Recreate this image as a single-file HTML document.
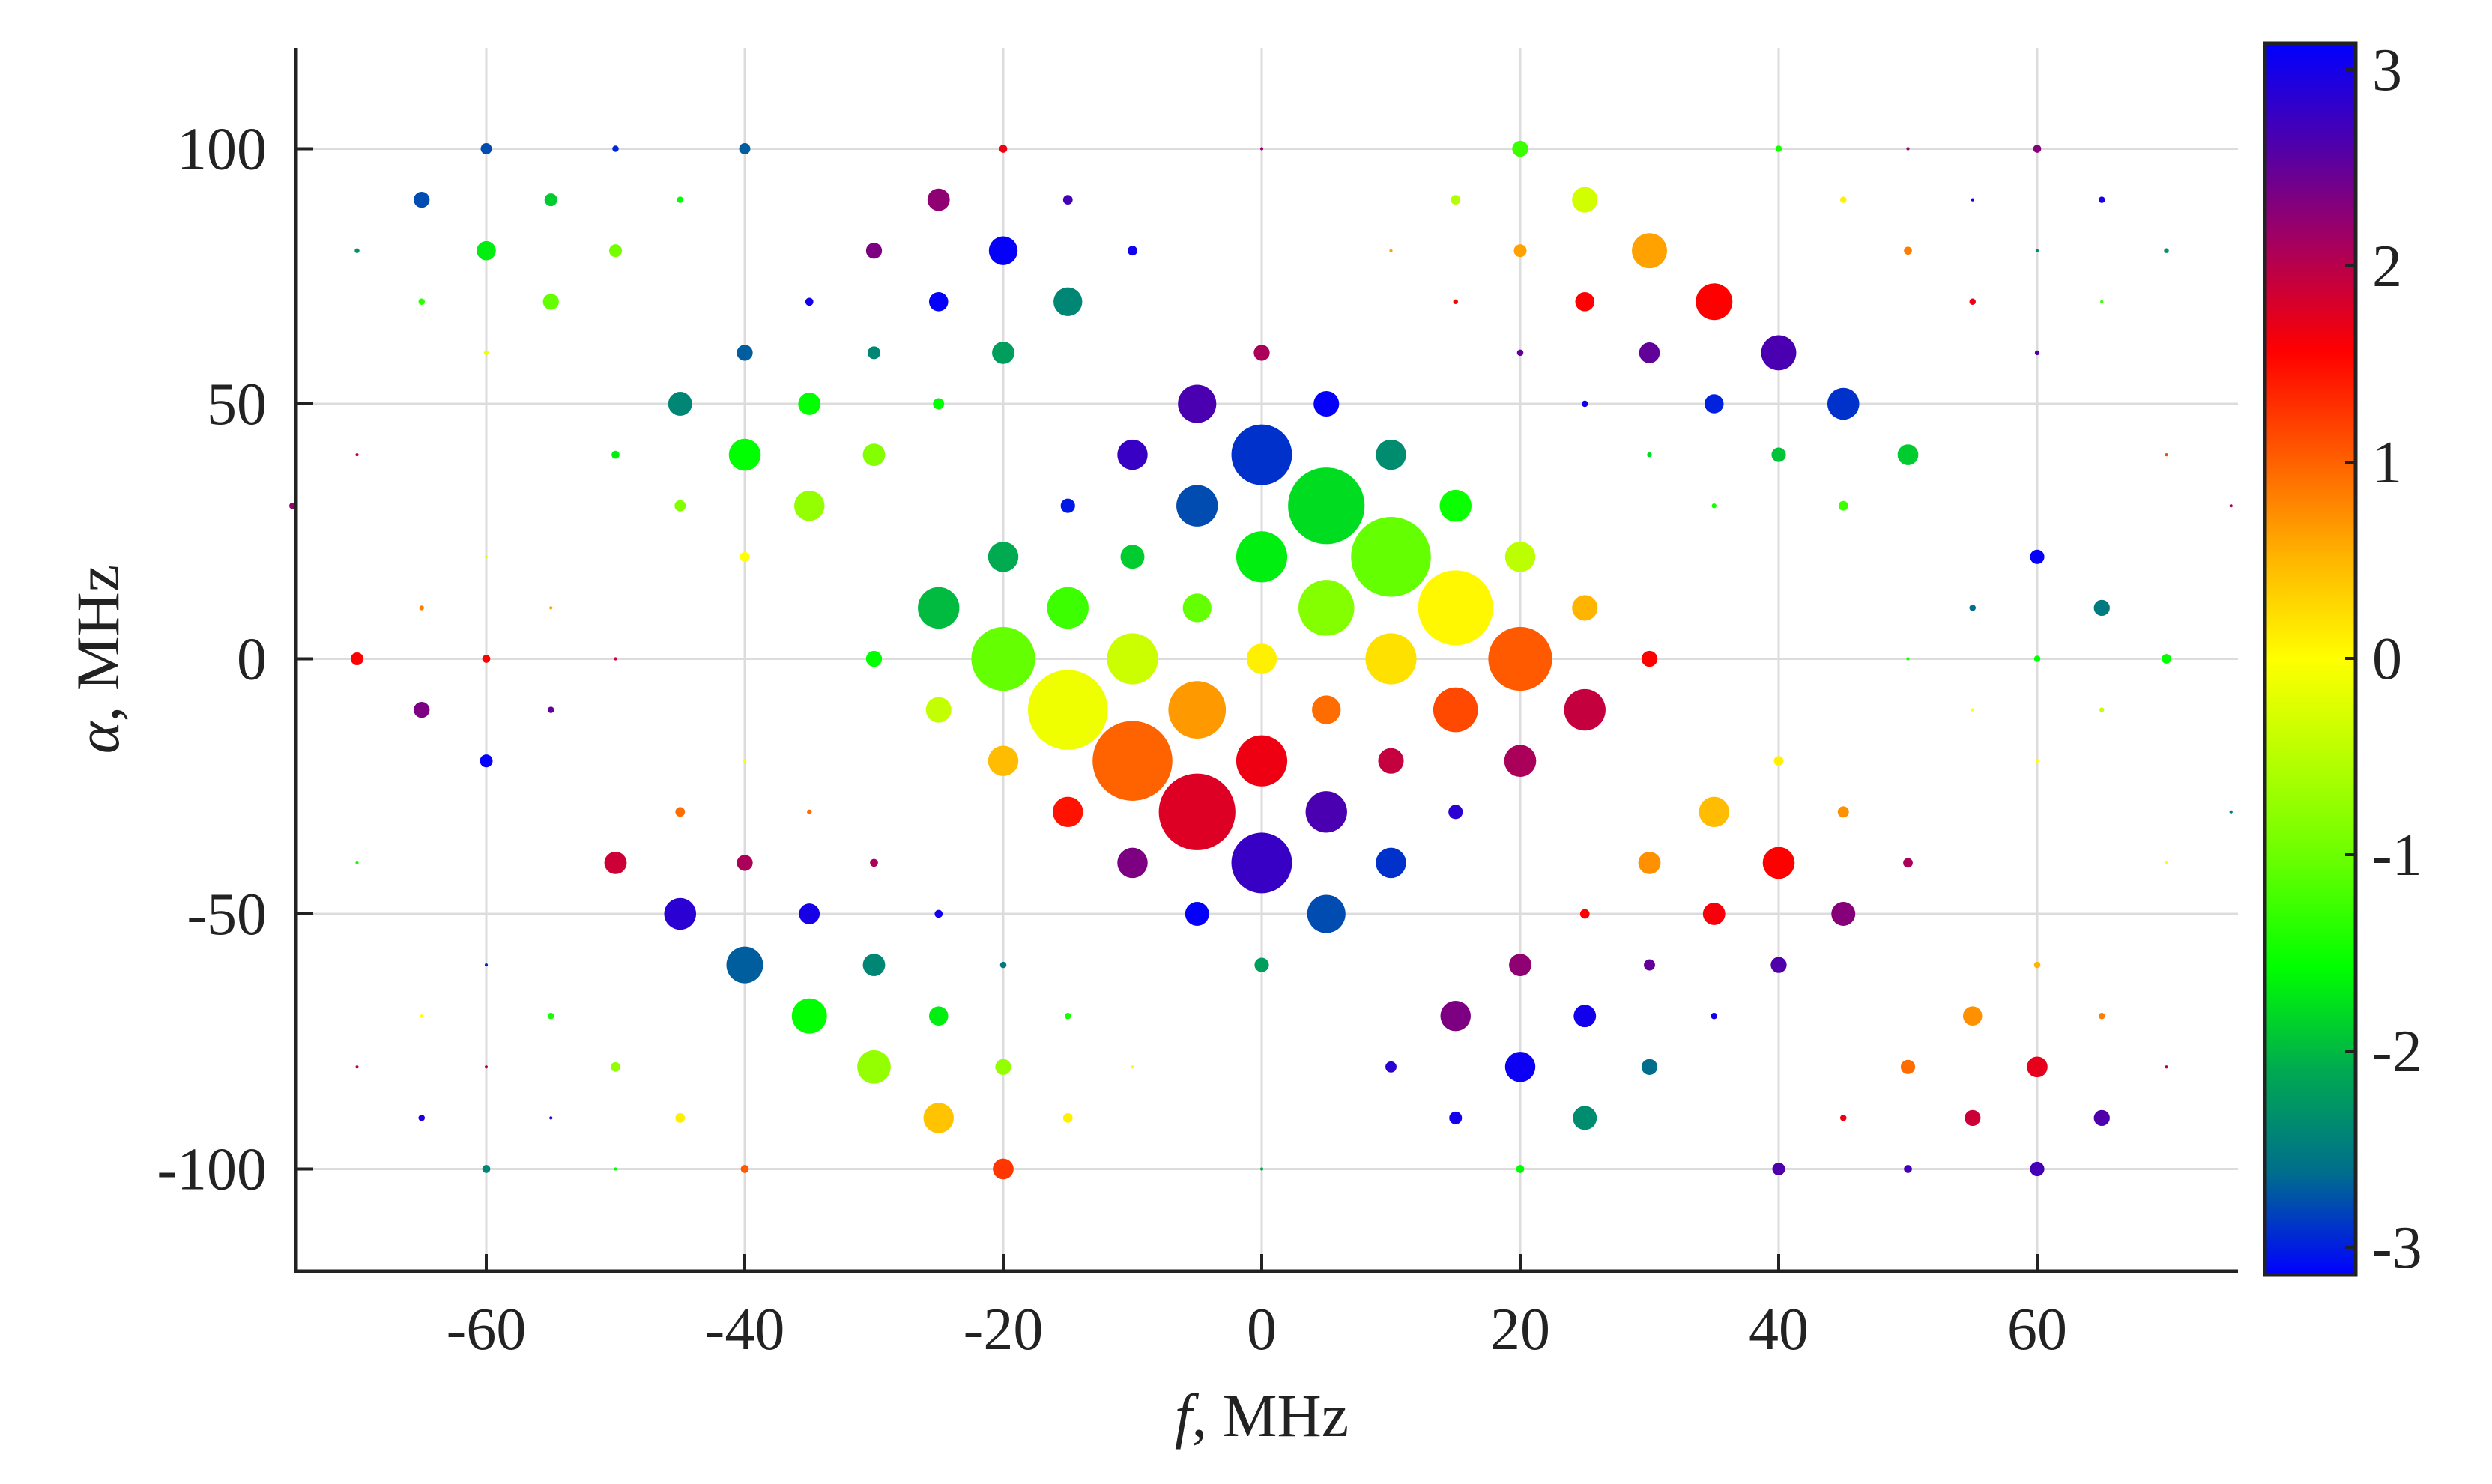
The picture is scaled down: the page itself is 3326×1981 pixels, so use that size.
<!DOCTYPE html>
<html><head><meta charset="utf-8"><title>Phase bubble chart</title>
<style>html,body{margin:0;padding:0;background:#fff}svg{display:block}text{font-family:"Liberation Serif",serif;fill:#222}</style>
</head><body>
<svg id="chart" width="3326" height="1981" viewBox="0 0 3326 1981" xmlns="http://www.w3.org/2000/svg">
<defs><linearGradient id="cmap" x1="0" y1="1" x2="0" y2="0"></linearGradient></defs>
<g id="grid"></g>
<g id="points"></g>
<g id="axes"></g>
<g id="cbar"></g>
</svg>
<script>
// data: frequency f (MHz), alpha (MHz), amplitude, phase (rad)
const fVals = [
-60,-50,-40,-20,0,20,40,50,60,
-65,-55,-45,-25,-15,15,25,45,55,65,
-70,-60,-50,-30,-20,-10,10,20,30,50,60,70,
-65,-55,-35,-25,-15,15,25,35,55,65,
-60,-40,-30,-20,0,20,30,40,60,
-45,-35,-25,-5,5,25,35,45,
-70,-50,-40,-30,-10,0,10,30,40,50,70,
-75,-45,-35,-15,-5,5,15,35,45,75,
-60,-40,-20,-10,0,10,20,60,
-65,-55,-25,-15,-5,5,15,25,55,65,
-70,-60,-50,-30,-20,-10,0,10,20,30,50,60,70,
-65,-55,-25,-15,-5,5,15,25,55,65,
-60,-40,-20,-10,0,10,20,40,60,
-45,-35,-15,-5,5,15,35,45,75,
-70,-50,-40,-30,-10,0,10,30,40,50,70,
-45,-35,-25,-5,5,25,35,45,
-60,-40,-30,-20,0,20,30,40,60,
-65,-55,-35,-25,-15,15,25,35,55,65,
-70,-60,-50,-30,-20,-10,10,20,30,50,60,70,
-65,-55,-45,-25,-15,15,25,45,55,65,
-60,-50,-40,-20,0,20,40,50,60];
const rowAlphas = [100,90,80,70,60,50,40,30,20,10,0,-10,-20,-30,-40,-50,-60,-70,-80,-90,-100];
const rowCounts = [9,10,12,10,9,8,11,10,8,10,13,10,9,9,11,8,9,10,12,10,9];
const ampVals = [
3.5,2,3.5,2.5,1,5,2,1,2.5,
5,4,2,7,3,3,8,2,1,2,
1.5,6,4,5,9,3,1,4,11,2.5,1,1.5,
2,5,2.5,6,9,1.5,6,11.5,2,1,
1.5,5,4,7,5,2,6.5,11,1.5,
7.5,7,3.5,12,8,2,6,10,
1,2.5,10,7,9.5,19,9.5,1.5,4.5,6.5,1,
2,3.5,9.5,4.5,13,24,10,1.5,3,1,
1,3,9.5,7.5,16,25,9.5,4.5,
1.5,1,13,13,9,17.5,23.5,8,2,5,
4,2.5,1,5,20,16,9.5,16,20,5,1,2,3,
5,2,8,25,18,9,14,13,1,1.5,
4,1,9.5,25,16,8,10,3,1,
3,1.5,9.5,24,13,4.5,9.5,3.5,1,
1,7,5,2.5,9.5,19,9.5,7,10,3,1,
10,6.5,2.5,7.5,12,3,7,7.5,
1,11.5,7,2,4.5,7,3.5,5,2,
1,2,11,6,2,9.5,7,2,6,2,
1,1,3,10.5,5,1,3.5,9.5,5,4.5,6.5,1,
2,1,3,9.5,3,4,7.5,2,5,5,
2.5,1,2.5,6.5,1,2.5,4,2.5,4.5];
const phaseVals = [
-2.7,-2.9,-2.6,1.6,2.1,-1.2,-1.4,2.1,2.2,
-2.7,-1.8,-1.5,2.15,2.6,-0.5,-0.3,0.1,3.0,2.95,
-2.2,-1.6,-0.9,2.25,3.1,3.0,0.6,0.6,0.6,0.8,-2.3,-2.2,
-1.3,-1.0,3.0,3.1,-2.3,1.5,1.5,1.5,1.6,-1.2,
-0.1,-2.6,-2.3,-2.1,2.0,2.4,2.4,2.55,2.5,
-2.3,-1.5,-1.5,2.55,3.1,3.0,-2.95,-2.85,
1.8,-1.6,-1.5,-0.8,2.7,-2.85,-2.25,-1.7,-1.85,-1.8,1.1,
2.1,-0.8,-0.7,-3.0,-2.7,-1.7,-1.45,-1.4,-1.2,2.0,
-0.1,0,-2.0,-1.8,-1.6,-1.0,-0.45,3.1,
0.8,0.6,-1.9,-1.2,-1.0,-0.8,0.05,0.5,-2.5,-2.4,
1.5,1.5,1.8,-1.5,-1.0,-0.35,0.1,0.2,1.0,1.5,-1.4,-1.5,-1.5,
2.25,2.4,-0.4,-0.1,0.65,0.9,1.1,1.85,0,-0.4,
3.1,0,0.45,0.95,1.6,1.85,2.0,0.1,0,
0.9,0.9,1.4,1.7,2.55,2.8,0.45,0.7,-2.4,
-1.4,1.8,2.0,2.0,2.25,2.7,-2.85,0.7,1.5,2.0,0,
2.8,2.95,3.0,3.1,-2.7,1.5,1.55,2.2,
-2.9,-2.6,-2.3,-2.4,-2.1,2.15,2.4,2.5,0.5,
0,-1.4,-1.5,-1.6,-1.4,2.25,3.0,3.0,0.7,0.8,
1.9,1.9,-0.7,-0.7,-0.7,0,2.8,3.05,-2.5,0.9,1.65,1.9,
2.9,2.8,0.1,0.4,0.1,3.0,-2.25,1.6,1.8,2.5,
-2.3,-1.5,1.0,1.2,-2.0,-1.5,2.5,2.6,2.6];
const xTicks = [-60,-40,-20,0,20,40,60];
const yTicks = [100,50,0,-50,-100];
const cbTicks = [3,2,1,0,-1,-2,-3];
// colormap stops (phase -> rgb)
const cmapPhase = [-3.1416,-2.5,-2,-1.5,-1,-0.5,0,0.5,1,1.5,2,2.5,3.1416];
const cmapColors = [[0,0,255],[0,110,140],[0,170,80],[0,255,0],[100,255,0],[180,255,0],[255,255,0],[255,180,0],[255,90,0],[255,0,0],[170,0,90],[80,0,170],[0,0,255]];

const NS="http://www.w3.org/2000/svg";
const X0=395,X1=2987,Y0=64,Y1=1697;
const xs=f=>1684+f*17.25;
const ys=a=>879.5-a*6.81;
const RS=2.13;
const cbTop=58,cbBot=1702,cbL=3023,cbR=3144;
const cbY=p=>879-p*262;
function mk(tag,attrs,parent){const e=document.createElementNS(NS,tag);for(const k in attrs)e.setAttribute(k,attrs[k]);parent.appendChild(e);return e;}
function color(p){
  for(let i=0;i<cmapPhase.length-1;i++){
    if(p<=cmapPhase[i+1]||i===cmapPhase.length-2){
      const t=Math.max(0,Math.min(1,(p-cmapPhase[i])/(cmapPhase[i+1]-cmapPhase[i])));
      const a=cmapColors[i],b=cmapColors[i+1];
      return `rgb(${Math.round(a[0]+(b[0]-a[0])*t)},${Math.round(a[1]+(b[1]-a[1])*t)},${Math.round(a[2]+(b[2]-a[2])*t)})`;
    }
  }
}
const grid=document.getElementById('grid'),pts=document.getElementById('points'),axes=document.getElementById('axes'),cb=document.getElementById('cbar');
xTicks.forEach(t=>{const l=mk('line',{x1:xs(t),x2:xs(t),y1:Y0,y2:Y1,stroke:'#dcdcdc','stroke-width':3},grid);

});
yTicks.forEach(t=>{const l=mk('line',{x1:X0,x2:X1,y1:ys(t),y2:ys(t),stroke:'#dcdcdc','stroke-width':3},grid);

});
// points
let idx=0;
rowAlphas.forEach((a,r)=>{for(let k=0;k<rowCounts[r];k++,idx++){
  const c=mk('circle',{cx:xs(fVals[idx]),cy:ys(a),r:ampVals[idx]*RS,fill:color(phaseVals[idx])},pts);
  
  
}});
// axes
const ax=mk('path',{d:`M${X0},${Y0}V${Y1}H${X1}`,fill:'none',stroke:'#222','stroke-width':5},axes);


xTicks.forEach(t=>{mk('line',{x1:xs(t),x2:xs(t),y1:Y1,y2:Y1-23,stroke:'#222','stroke-width':4},axes);
const tx=mk('text',{x:xs(t),y:1801,'font-size':80,'text-anchor':'middle'},axes);tx.textContent=t;

});
yTicks.forEach(t=>{mk('line',{x1:X0,x2:X0+23,y1:ys(t),y2:ys(t),stroke:'#222','stroke-width':4},axes);
const tx=mk('text',{x:356,y:ys(t)+27,'font-size':80,'text-anchor':'end'},axes);tx.textContent=t;

});
const xt=mk('text',{x:1684,y:1917,'font-size':82,'text-anchor':'middle'},axes);
xt.innerHTML='<tspan font-style="italic">f</tspan>, MHz';


const yt=mk('text',{x:0,y:0,'font-size':82,'text-anchor':'middle',transform:'translate(158,880) rotate(-90)'},axes);
yt.innerHTML='<tspan font-style="italic">α</tspan>, MHz';


// colorbar
const grad=document.getElementById('cmap');
cmapPhase.forEach((p,i)=>{mk('stop',{offset:(i/(cmapPhase.length-1)).toFixed(4),'stop-color':`rgb(${cmapColors[i].join(',')})`},grad);});
const cr=mk('rect',{x:cbL,y:cbTop,width:cbR-cbL,height:cbBot-cbTop,fill:'url(#cmap)',stroke:'#222','stroke-width':5},cb);


cbTicks.forEach(t=>{mk('line',{x1:cbR-14,x2:cbR,y1:cbY(t),y2:cbY(t),stroke:'#222','stroke-width':4},cb);
const tx=mk('text',{x:3166,y:cbY(t)+27,'font-size':80},cb);tx.textContent=t;

});
</script>
</body></html>
